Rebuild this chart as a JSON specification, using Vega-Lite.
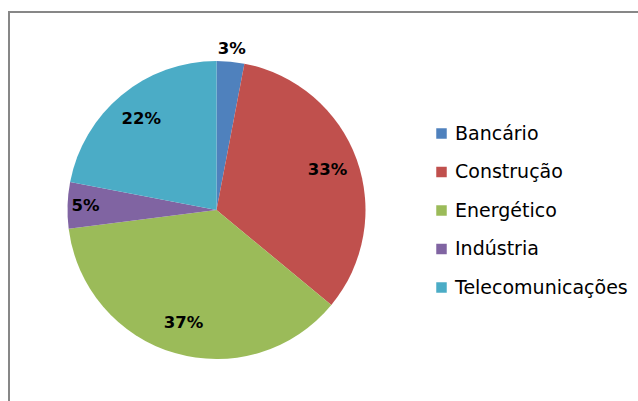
{
  "$schema": "https://vega.github.io/schema/vega-lite/v6.json",
  "autosize": "none",
  "padding": {"left": 9, "top": 12, "right": 0, "bottom": 0},
  "width": 629,
  "height": 389,
  "background": "white",
  "view": {"stroke": "#878787", "strokeWidth": 2, "strokeDash": [629, 1018, 389]},
  "data": {"values": [
    {"category": "Bancário", "value": 0.03},
    {"category": "Construção", "value": 0.33},
    {"category": "Energético", "value": 0.37},
    {"category": "Indústria", "value": 0.05},
    {"category": "Telecomunicações", "value": 0.22}
  ]},
  "layer": [
    {
      "mark": {"type": "arc", "outerRadius": 149, "xOffset": -107, "yOffset": 3.5},
      "encoding": {
        "theta": {"field": "value", "type": "quantitative", "stack": true},
        "order": {"field": "category", "type": "nominal", "sort": "ascending"},
        "color": {
          "field": "category", "type": "nominal",
          "scale": {"domain": ["Bancário", "Construção", "Energético", "Indústria", "Telecomunicações"],
                    "range": ["#4F81BD", "#C0504D", "#9BBB59", "#8064A2", "#4BACC6"]},
          "legend": {"orient": "none", "legendX": 423, "legendY": 112, "title": null,
                     "symbolType": "square", "symbolSize": 110, "symbolStrokeWidth": 0,
                     "labelFont": "DejaVu Sans", "labelFontSize": 19, "labelColor": "black",
                     "labelLimit": 0, "rowPadding": 18.5, "labelOffset": 4}
        }
      }
    },
    {
      "mark": {"type": "text", "radius": 118, "xOffset": -107, "yOffset": 3.5, "font": "DejaVu Sans", "fontWeight": "bold", "fontSize": 16.5, "color": "black"},
      "encoding": {
        "theta": {"field": "value", "type": "quantitative", "stack": true},
        "order": {"field": "category", "type": "nominal", "sort": "ascending"},
        "text": {"condition": {"test": "datum.category === 'Bancário' || datum.category === 'Indústria'", "value": ""},
                 "field": "value", "type": "quantitative", "format": ".0%"}
      }
    },
    {
      "mark": {"type": "text", "radius": 131, "xOffset": -107, "yOffset": 3.5, "font": "DejaVu Sans", "fontWeight": "bold", "fontSize": 16.5, "color": "black"},
      "encoding": {
        "theta": {"field": "value", "type": "quantitative", "stack": true},
        "order": {"field": "category", "type": "nominal", "sort": "ascending"},
        "text": {"condition": {"test": "datum.category !== 'Indústria'", "value": ""},
                 "field": "value", "type": "quantitative", "format": ".0%"}
      }
    },
    {
      "mark": {"type": "text", "radius": 162, "xOffset": -107, "yOffset": 3.5, "font": "DejaVu Sans", "fontWeight": "bold", "fontSize": 16.5, "color": "black"},
      "encoding": {
        "theta": {"field": "value", "type": "quantitative", "stack": true},
        "order": {"field": "category", "type": "nominal", "sort": "ascending"},
        "text": {"condition": {"test": "datum.category !== 'Bancário'", "value": ""},
                 "field": "value", "type": "quantitative", "format": ".0%"}
      }
    }
  ]
}
